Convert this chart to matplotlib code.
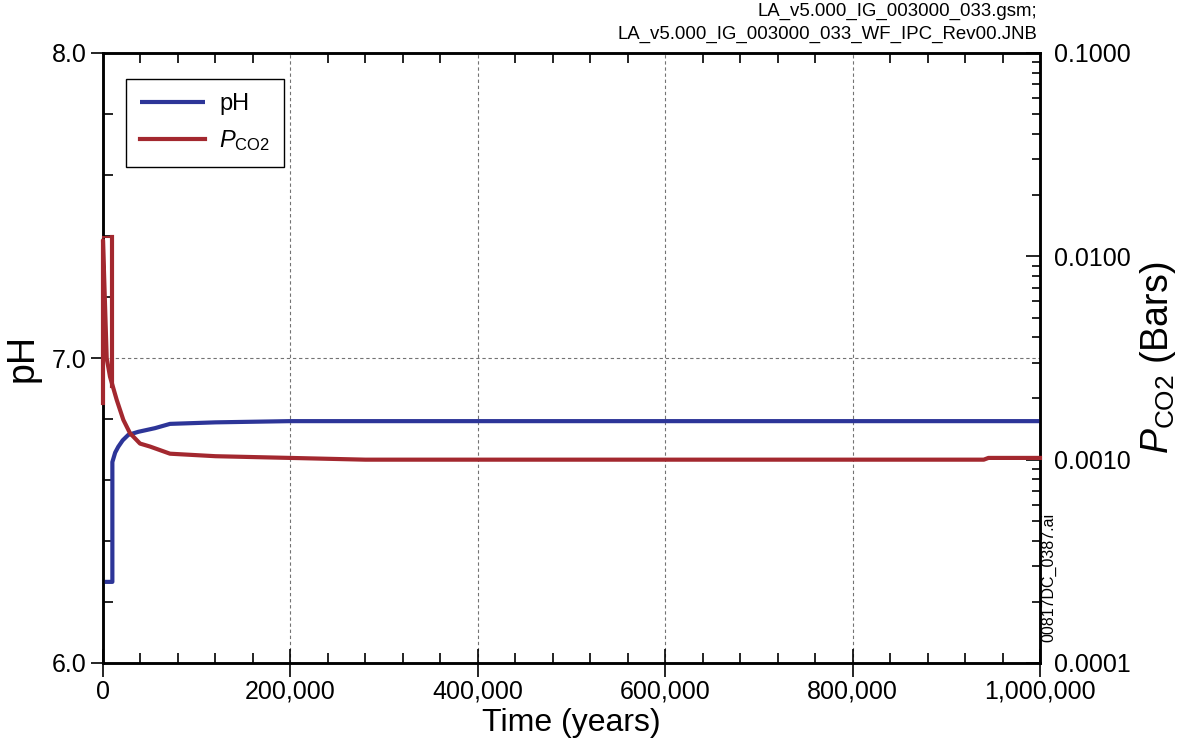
import matplotlib
matplotlib.use("Agg")
import matplotlib.pyplot as plt
from matplotlib.ticker import FixedLocator, MultipleLocator, FuncFormatter, LogLocator
import numpy as np

plt.rcParams['font.family'] = ['Liberation Sans', 'DejaVu Sans']
plt.rcParams['mathtext.fontset'] = 'custom'
plt.rcParams['mathtext.rm'] = 'Liberation Sans'
plt.rcParams['mathtext.it'] = 'Liberation Sans:italic'

# pH history (years, pH)
ph_time = [0, 10000, 10000, 13000, 16300, 21000, 27000, 37700, 55500, 71500,
           120000, 199600, 400000, 700000, 1000000]
ph_value = [6.266, 6.266, 6.659, 6.690, 6.709, 6.730, 6.748, 6.758, 6.770, 6.784,
            6.789, 6.793, 6.793, 6.793, 6.793]

# partial pressure of CO2 (bars): decay from the start of the run
co2_time = [0, 0, 3950, 7470, 14600, 21700, 28800, 39500, 50200, 71500,
            120000, 199600, 280000, 600000, 940000, 945000, 1000000]
co2_value = [0.0019, 0.0120, 0.00316, 0.00256, 0.00197, 0.00157, 0.00135, 0.00120,
             0.00116, 0.00107, 0.00104, 0.00102, 0.00100, 0.00100, 0.00100,
             0.00102, 0.00102]
# first 10,000 years held at the initial pressure
co2_hold_time = [0, 10000, 10000]
co2_hold_value = [0.01245, 0.01245, 0.0023]

x_ticks = [0, 200000, 400000, 600000, 800000, 1000000]
ph_ticks = [6.0, 7.0, 8.0]
co2_ticks = [0.0001, 0.001, 0.01, 0.1]

header = "LA_v5.000_IG_003000_033.gsm;\nLA_v5.000_IG_003000_033_WF_IPC_Rev00.JNB"
file_tag = "00817DC_0387.ai"

blue = '#2d3598'
red = '#a3282f'

fig = plt.figure(figsize=(11.77, 7.48), dpi=100)
ax = fig.add_axes([103 / 1177, 1 - 663 / 748, 937 / 1177, 610 / 748])
ax2 = ax.twinx()

ph_line, = ax.plot(ph_time, ph_value, color=blue, lw=3, solid_capstyle='butt',
                   solid_joinstyle='round', clip_on=False, zorder=3)
co2_line, = ax2.plot(co2_time, co2_value, color=red, lw=3, solid_joinstyle='round',
                     clip_on=False, zorder=3)
ax2.plot(co2_hold_time[:2], co2_hold_value[:2], color=red, lw=1.5, clip_on=False, zorder=3)
ax2.plot(co2_hold_time[1:], co2_hold_value[1:], color=red, lw=3, clip_on=False, zorder=3)

ax.set_xlim(0, 1000000)
ax.set_ylim(6.0, 8.0)
ax2.set_yscale('log')
ax2.set_ylim(0.0001, 0.1)

ax.xaxis.set_major_locator(FixedLocator(x_ticks))
ax.xaxis.set_minor_locator(MultipleLocator(40000))
ax.xaxis.set_major_formatter(FuncFormatter(lambda v, p: f"{int(v):,}"))
ax.yaxis.set_major_locator(FixedLocator(ph_ticks))
ax.yaxis.set_minor_locator(MultipleLocator(0.2))
ax.yaxis.set_major_formatter(FuncFormatter(lambda v, p: f"{v:.1f}"))
ax2.yaxis.set_major_locator(FixedLocator(co2_ticks))
ax2.yaxis.set_minor_locator(LogLocator(base=10, subs=np.arange(2, 10)))
ax2.yaxis.set_major_formatter(FuncFormatter(lambda v, p: f"{v:.4f}"))
ax2.yaxis.set_minor_formatter(FuncFormatter(lambda v, p: ""))

ax.tick_params(axis='x', which='major', direction='inout', length=20, width=1.2,
               labelsize=18, pad=2, top=False)
ax.tick_params(axis='x', which='minor', direction='in', length=7, width=1.2, top=True)
ax.tick_params(axis='y', which='major', direction='out', length=9, width=1.2,
               labelsize=18, pad=3)
ax.tick_params(axis='y', which='minor', direction='in', length=7, width=1.2)
ax2.tick_params(axis='y', which='major', direction='in', length=10, width=1.2,
                labelsize=18, pad=10)
ax2.tick_params(axis='y', which='minor', direction='in', length=6, width=1.2)

for a in (ax, ax2):
    for s in a.spines.values():
        s.set_linewidth(1.8)

ax.grid(True, which='major', color='0.45', lw=0.8, linestyle=(0, (3, 2.5)))
ax.set_axisbelow(True)

ax.set_xlabel("Time (years)", fontsize=23, labelpad=3)
ax.set_ylabel("pH", fontsize=27, labelpad=8)
ax2.set_ylabel(r"$P_{\mathrm{CO2}}$ (Bars)", fontsize=27, labelpad=5)

leg = ax2.legend([ph_line, co2_line], ["pH", r"$P_{\mathrm{CO2}}$"],
                 loc='upper left', bbox_to_anchor=(0.0245, 0.957), borderaxespad=0,
                 fontsize=17, handlelength=2.75, handletextpad=0.6, borderpad=0.6,
                 labelspacing=0.55, fancybox=False, framealpha=1)
leg.get_frame().set_edgecolor('black')
leg.get_frame().set_linewidth(1.0)

fig.text(1037 / 1177, 1 - 3 / 748, header, ha='right', va='top', fontsize=13.4,
         linespacing=1.45)
fig.text(1049 / 1177, 1 - 577 / 748, file_tag, rotation=90, ha='center', va='center',
         fontsize=11.5)

fig.savefig("out.png", dpi=100)
